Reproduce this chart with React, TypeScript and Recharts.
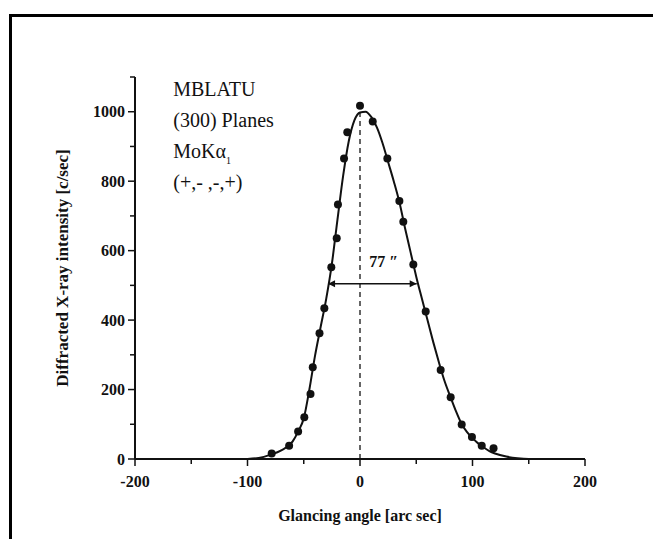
import React from "react";
import {
  ComposedChart,
  Line,
  Scatter,
  XAxis,
  YAxis,
  ReferenceLine,
  ReferenceDot,
} from "recharts";

const SERIF = '"Liberation Serif", "Times New Roman", serif';
const INK = "#111";

// measured rocking-curve points
const dotAngle = [
  -78.5, -63, -55, -49.5, -44, -42, -36, -31.7, -25.5, -20.7, -19.6, -14.2,
  -11.3, 0, 11.3, 24.3, 35, 38.5, 47.4, 58.4, 71.7, 80.6, 90.4, 99.5, 108.2,
  118.7,
];
const dotIntensity = [
  16, 38, 79, 120, 187, 264, 362, 434, 552, 636, 733, 865, 941, 1017, 972, 865,
  743, 683, 560, 425, 256, 178, 99, 63, 38, 31,
];

// fitted profile
const fitAngle = [
  -100, -90, -80, -70, -60, -55, -50, -45, -40, -35, -30, -25, -20, -15, -10,
  -5, 0, 5, 10, 15, 20, 25, 30, 35, 40, 45, 50, 55, 60, 65, 70, 75, 80, 85, 90,
  95, 100, 105, 110, 115, 120, 130, 140, 150, 157,
];
const fitIntensity = [
  0, 3, 12, 25, 50, 79, 117, 200, 297, 380, 462, 562, 690, 815, 915, 975, 998,
  1000, 985, 955, 910, 855, 800, 740, 665, 595, 525, 462, 400, 338, 280, 226,
  182, 140, 103, 78, 60, 45, 33, 23, 16, 7, 2, 0, 0,
];

const xTicks = [-200, -150, -100, -50, 0, 50, 100, 150, 200];
const yTicks = [0, 100, 200, 300, 400, 500, 600, 700, 800, 900, 1000, 1100];

const PEAK = 1003;
const HALF = 505;
const fwhmLeft = -28.4;
const fwhmRight = 50.4;
const fwhmText = "77 \u2033";

const noteLines = ["MBLATU", "(300) Planes", "MoK\u03b1", "(+,- ,-,+)"];

const dots = dotAngle.map((x, i) => ({ x, y: dotIntensity[i] }));
const fit = fitAngle.map((x, i) => ({ x, y: fitIntensity[i] }));

const XTick = (props: any) => {
  const { x, y, payload } = props;
  const v = payload.value as number;
  const major = v % 100 === 0;
  return (
    <g>
      <line x1={x} x2={x} y1={y} y2={y + (major ? 7 : 5)} stroke={INK} strokeWidth={1.5} />
      {major && (
        <text
          x={x}
          y={y + 28}
          textAnchor="middle"
          fontFamily={SERIF}
          fontWeight="bold"
          fontSize={16}
          fill={INK}
        >
          {v}
        </text>
      )}
    </g>
  );
};

const YTick = (props: any) => {
  const { x, y, payload } = props;
  const v = payload.value as number;
  const major = v % 200 === 0 && v <= 1000;
  return (
    <g>
      <line x1={x} x2={x - (major ? 7 : 5)} y1={y} y2={y} stroke={INK} strokeWidth={1.5} />
      {major && (
        <text
          x={x - 10}
          y={y}
          dy="0.35em"
          textAnchor="end"
          fontFamily={SERIF}
          fontWeight="bold"
          fontSize={16}
          fill={INK}
        >
          {v}
        </text>
      )}
    </g>
  );
};

const Arrow = (props: any) => {
  const { x1, y1, x2 } = props;
  const h = 7;
  const w = 3.5;
  return (
    <g>
      <line x1={x1} y1={y1} x2={x2} y2={y1} stroke={INK} strokeWidth={1.5} />
      <polygon points={`${x1},${y1} ${x1 + h},${y1 - w} ${x1 + h},${y1 + w}`} fill={INK} />
      <polygon points={`${x2},${y1} ${x2 - h},${y1 - w} ${x2 - h},${y1 + w}`} fill={INK} />
    </g>
  );
};

const Notes = (props: any) => {
  const { cx, cy } = props;
  return (
    <text fontFamily={SERIF} fontSize={20} fill={INK}>
      {noteLines.map((line, i) => (
        <tspan key={line} x={cx} y={cy + i * 31}>
          {line}
          {i === 2 && (
            <tspan fontSize={10} dy={6}>
              1
            </tspan>
          )}
        </tspan>
      ))}
    </text>
  );
};

const Dot = (props: any) => <circle cx={props.cx} cy={props.cy} r={4} fill={INK} />;

export default function App() {
  return (
    <div style={{ position: "relative", width: 661, height: 547, margin: -8, background: "#fff" }}>
      <div style={{ position: "absolute", left: 0, top: 0, width: 3, height: 547, background: "#000" }} />
      <div style={{ position: "absolute", left: 9, top: 14, width: 3, height: 533, background: "#000" }} />
      <div style={{ position: "absolute", left: 9, top: 14, width: 652, height: 3, background: "#000" }} />
      <ComposedChart
        width={661}
        height={547}
        margin={{ top: 77, right: 76, left: 75, bottom: 48 }}
        style={{ position: "absolute", left: 0, top: 0 }}
      >
        <XAxis
          type="number"
          dataKey="x"
          domain={[-200, 200]}
          ticks={xTicks}
          interval={0}
          height={40}
          tickSize={0}
          tickMargin={0}
          tickLine={false}
          tick={<XTick />}
          axisLine={{ stroke: INK, strokeWidth: 2 }}
          allowDataOverflow
          label={{
            content: (p: any) => {
              const vb = p.viewBox;
              return (
                <text
                  x={vb.x + vb.width / 2}
                  y={vb.y + 62}
                  textAnchor="middle"
                  fontFamily={SERIF}
                  fontWeight="bold"
                  fontSize={16}
                  fill={INK}
                >
                  Glancing angle [arc sec]
                </text>
              );
            },
          }}
        />
        <YAxis
          type="number"
          domain={[0, 1100]}
          ticks={yTicks}
          interval={0}
          width={60}
          tickSize={0}
          tickMargin={0}
          tickLine={false}
          tick={<YTick />}
          axisLine={{ stroke: INK, strokeWidth: 2 }}
          allowDataOverflow
          label={{
            content: (p: any) => {
              const vb = p.viewBox;
              const cx = vb.x - 13;
              const cy = vb.y + vb.height / 2;
              return (
                <text
                  x={cx}
                  y={cy}
                  transform={`rotate(-90 ${cx} ${cy})`}
                  textAnchor="middle"
                  dominantBaseline="central"
                  fontFamily={SERIF}
                  fontWeight="bold"
                  fontSize={17}
                  fill={INK}
                >
                  Diffracted X-ray intensity [c/sec]
                </text>
              );
            },
          }}
        />
        <ReferenceLine
          segment={[
            { x: 0, y: 0 },
            { x: 0, y: PEAK },
          ]}
          stroke="#333"
          strokeWidth={1.5}
          strokeDasharray="5 4"
        />
        <ReferenceLine
          segment={[
            { x: fwhmLeft, y: HALF },
            { x: fwhmRight, y: HALF },
          ]}
          shape={<Arrow />}
        />
        <ReferenceDot
          x={21}
          y={553}
          r={1}
          shape={(p: any) => (
            <text
              x={p.cx}
              y={p.cy}
              textAnchor="middle"
              fontFamily={SERIF}
              fontWeight="bold"
              fontSize={16}
              fill={INK}
            >
              {fwhmText}
            </text>
          )}
        />
        <ReferenceDot x={-166} y={1046} r={1} shape={<Notes />} />
        <Line
          data={fit}
          dataKey="y"
          type="monotone"
          stroke={INK}
          strokeWidth={2}
          dot={false}
          activeDot={false}
          isAnimationActive={false}
        />
        <Scatter data={dots} dataKey="y" shape={<Dot />} isAnimationActive={false} />
      </ComposedChart>
    </div>
  );
}
